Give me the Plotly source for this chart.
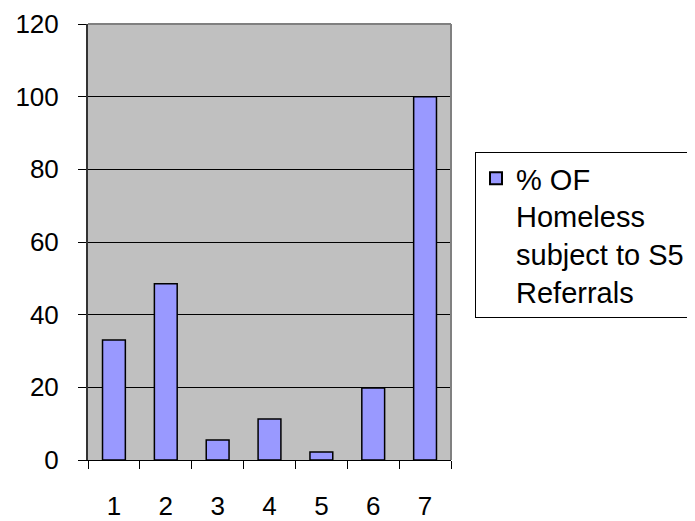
import plotly.graph_objects as go

categories = ["1", "2", "3", "4", "5", "6", "7"]
values = [33, 48.5, 5.5, 11.3, 2.2, 19.8, 100]
series_name = "% OF<br>Homeless<br>subject to S5<br>Referrals"
y_ticks = [0, 20, 40, 60, 80, 100, 120]

FONT = "Liberation Sans, Arial, sans-serif"

# page body has an 8px default margin, so shift margins accordingly
fig = go.Figure()
fig.add_trace(go.Bar(
    x=categories, y=values, name=series_name,
    marker=dict(color="#9999FF", line=dict(color="black", width=1.5)),
    showlegend=True,
))

fig.update_layout(
    width=695, height=521,
    margin=dict(l=80, r=252, t=16, b=69, autoexpand=False),
    paper_bgcolor="white",
    plot_bgcolor="#C0C0C0",
    bargap=0.56,
    font=dict(family=FONT, size=26, color="black"),
    showlegend=True,
    legend=dict(
        x=(475 - 88) / 363, xanchor="left",
        y=(460 - 152) / 436, yanchor="top",
        bgcolor="white", bordercolor="black", borderwidth=1,
        font=dict(family=FONT, size=29, color="black"),
        valign="top",
        itemsizing="constant",
    ),
    xaxis=dict(
        type="category",
        tickson="boundaries",
        ticks="outside", ticklen=8, tickcolor="black", tickwidth=1,
        showline=True, linecolor="black", linewidth=1,
        showgrid=False,
        automargin=False,
        ticklabelstandoff=23,
        tickfont=dict(size=26),
    ),
    yaxis=dict(
        range=[0, 120],
        tickmode="array", tickvals=y_ticks,
        ticks="outside", ticklen=8, tickcolor="black", tickwidth=1,
        showline=True, linecolor="#333333", linewidth=2,
        showgrid=True, gridcolor="black", gridwidth=1,
        zeroline=False,
        automargin=False,
        ticklabelstandoff=14,
        tickfont=dict(size=26),
    ),
    shapes=[
        dict(type="line", xref="paper", yref="paper", x0=0, x1=1, y0=1, y1=1,
             line=dict(color="#808080", width=2), layer="above"),
        dict(type="line", xref="paper", yref="paper", x0=1, x1=1, y0=0, y1=1,
             line=dict(color="#808080", width=2), layer="above"),
    ],
)

fig.write_html("out.html")
